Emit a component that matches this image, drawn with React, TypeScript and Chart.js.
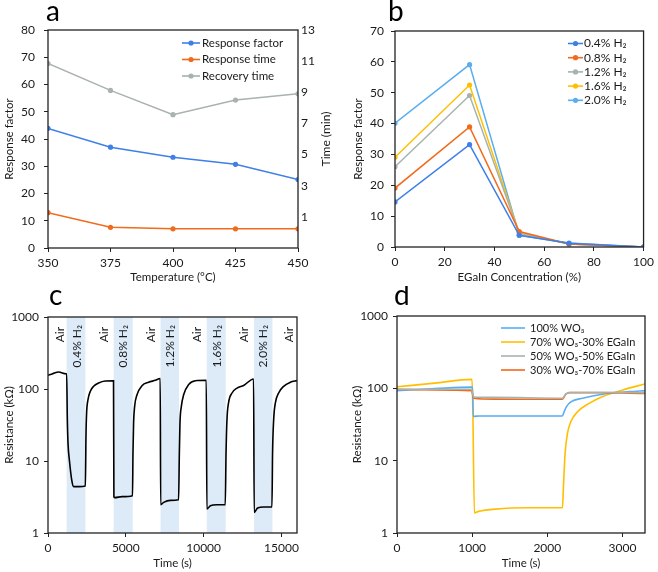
import React, { useEffect, useRef } from "react";
import { Chart, registerables } from "chart.js";

Chart.register(...registerables);

// ---------------- data ----------------
// panel a
const tempC = [350, 375, 400, 425, 450];
const responseFactorA = [43.9, 37.0, 33.3, 30.7, 25.1];
const responseTimeMin = [1.27, 0.33, 0.23, 0.23, 0.23];
const recoveryTimeMin = [10.85, 9.12, 7.56, 8.5, 8.9];
const seriesNamesA = ["Response factor", "Response time", "Recovery time"];
const timeTicksA = [1, 3, 5, 7, 9, 11, 13];

// panel b
const egainPct = [0, 30, 50, 70, 100];
const rf04 = [14.6, 33.2, 3.8, 1.2, 0];
const rf08 = [19.1, 38.9, 5.0, 1.0, 0];
const rf12 = [26.0, 49.1, 4.5, 1.0, 0];
const rf16 = [29.1, 52.5, 4.5, 1.0, 0];
const rf20 = [40.1, 59.1, 3.8, 1.3, 0];
const seriesNamesB = ["0.4% H₂", "0.8% H₂", "1.2% H₂", "1.6% H₂", "2.0% H₂"];

// panel c
const cTime = [
  0, 300, 683, 1157, 1200, 1240, 1290, 1370, 1540, 1650, 2000, 2400,
  2440, 2480, 2570, 2720, 2930, 3250, 3680, 4210,
  4235, 4300, 4750, 5430,
  5460, 5500, 5565, 5720, 6040, 6465, 6900, 7210,
  7240, 7430, 7860, 8390,
  8440, 8480, 8567, 8715, 9036, 9467, 10170,
  10210, 10430, 10860, 11390,
  11440, 11500, 11600, 11825, 12150, 12570, 13210,
  13250, 13470, 13860, 14390,
  14430, 14500, 14610, 14820, 15140, 15570, 16000,
];
const cRes = [
  155, 163, 172, 163, 163, 40, 17, 10.5, 5.2, 4.4, 4.4, 4.5,
  22, 46, 71, 93, 109, 121, 129, 130,
  3.2, 3.1, 3.2, 3.3,
  12.9, 33.7, 57, 83, 111, 124, 132, 140,
  2.47, 2.66, 2.84, 2.9,
  12.9, 33.7, 57, 83, 115, 130, 132,
  2.15, 2.39, 2.47, 2.47,
  12.9, 37.5, 64, 88, 103, 112, 138,
  1.93, 2.22, 2.3, 2.3,
  12.9, 37.5, 64, 88, 109, 124, 131,
];
const cBands = [
  [1200, 2400],
  [4220, 5440],
  [7230, 8420],
  [10200, 11420],
  [13240, 14420],
];
const cAirLabelTimes = [800, 3600, 6600, 9600, 12600, 15500];
const cGasLabels = ["0.4% H₂", "0.8% H₂", "1.2% H₂", "1.6% H₂", "2.0% H₂"];
const cGasLabelTimes = [1850, 4850, 7850, 10850, 13850];
const cTimeTicks = [0, 5000, 10000, 15000];
const resTicks = [1, 10, 100, 1000];

// panel d
const dBlueT = [0, 500, 990, 1005, 1015, 1100, 2200, 2224, 2255, 2313, 2469, 2737, 3093, 3300];
const dBlueR = [93, 99, 104, 104, 41, 41.5, 41.5, 47.5, 56, 65, 73, 83, 90, 93];
const dYellowT = [0, 500, 998, 1008, 1030, 1087, 1310, 1756, 2202, 2215, 2237, 2269, 2313, 2402, 2558, 2737, 3004, 3300];
const dYellowR = [105, 118, 133, 60, 1.9, 1.99, 2.14, 2.23, 2.23, 4.4, 12.7, 24, 34.6, 47.5, 62, 77, 95, 115];
const dGrayT = [0, 500, 990, 1020, 1300, 2200, 2250, 2300, 2700, 3300];
const dGrayR = [97, 97, 97, 76, 75, 73, 84, 88, 88, 87];
const dRedT = [0, 500, 990, 1020, 1300, 2200, 2246, 2300, 2700, 3300];
const dRedR = [97, 95, 93, 73, 71, 70.5, 83, 87, 87, 85];
const seriesNamesD = ["100% WO₃", "70% WO₃-30% EGaIn", "50% WO₃-50% EGaIn", "30% WO₃-70% EGaIn"];
const dTimeTicks = [0, 1000, 2000, 3000];

// ---------------- styles ----------------
const FONT = "Lato, 'Noto Sans', 'DejaVu Sans', sans-serif";
const AXIS = "#222222";
const TEXT = "#1a1a1a";
const BLUE = "#3f7fe8";
const ORANGE = "#f26a1b";
const GRAY = "#a8b2ae";
const YELLOW = "#ffbf00";
const LIGHTBLUE = "#5aaef0";
const BAND = "#ddeaf8";

type LegendItem = { label: string; color: string; marker: boolean };
type DecorCfg = {
  letter: { text: string; x: number; y: number };
  legend?: { x: number; y: number; dy: number; len: number; gap: number; items: LegendItem[]; size: number };
  bands?: number[][];
  vlabels?: { text: string; t: number; top: number }[];
  rightTitle?: { text: string; x: number };
};

function makeDecor(cfg: DecorCfg) {
  return {
    id: "decor",
    beforeDatasetsDraw(chart: any) {
      const { ctx, chartArea, scales } = chart;
      if (cfg.bands) {
        ctx.save();
        ctx.fillStyle = BAND;
        for (const [a, b] of cfg.bands) {
          const x1 = scales.x.getPixelForValue(a);
          const x2 = scales.x.getPixelForValue(b);
          ctx.fillRect(x1, chartArea.top, x2 - x1, chartArea.bottom - chartArea.top);
        }
        ctx.restore();
      }
      if (cfg.vlabels) {
        ctx.save();
        ctx.fillStyle = TEXT;
        ctx.font = `12px ${FONT}`;
        ctx.textAlign = "right";
        ctx.textBaseline = "middle";
        for (const l of cfg.vlabels) {
          const x = scales.x.getPixelForValue(l.t);
          ctx.save();
          ctx.translate(x, chartArea.top + l.top);
          ctx.rotate(-Math.PI / 2);
          ctx.fillText(l.text, 0, 0);
          ctx.restore();
        }
        ctx.restore();
      }
    },
    afterDraw(chart: any) {
      const { ctx, chartArea } = chart;
      ctx.save();
      ctx.strokeStyle = AXIS;
      ctx.lineWidth = 1.3;
      ctx.strokeRect(chartArea.left, chartArea.top, chartArea.right - chartArea.left, chartArea.bottom - chartArea.top);
      // letter
      ctx.fillStyle = "#000";
      ctx.font = `28px ${FONT}`;
      ctx.textAlign = "left";
      ctx.textBaseline = "alphabetic";
      ctx.fillText(cfg.letter.text, cfg.letter.x, cfg.letter.y);
      // legend
      if (cfg.legend) {
        const lg = cfg.legend;
        ctx.font = `${lg.size}px ${FONT}`;
        ctx.textBaseline = "middle";
        lg.items.forEach((it, i) => {
          const y = lg.y + i * lg.dy;
          ctx.strokeStyle = it.color;
          ctx.lineWidth = 1.6;
          ctx.beginPath();
          ctx.moveTo(lg.x, y);
          ctx.lineTo(lg.x + lg.len, y);
          ctx.stroke();
          if (it.marker) {
            ctx.fillStyle = it.color;
            ctx.beginPath();
            ctx.arc(lg.x + lg.len / 2, y, 2.6, 0, Math.PI * 2);
            ctx.fill();
          }
          ctx.fillStyle = TEXT;
          ctx.fillText(it.label, lg.x + lg.len + lg.gap, y);
        });
      }
      if (cfg.rightTitle) {
        ctx.fillStyle = TEXT;
        ctx.font = `12px ${FONT}`;
        ctx.textAlign = "center";
        ctx.textBaseline = "middle";
        ctx.translate(cfg.rightTitle.x, (chartArea.top + chartArea.bottom) / 2);
        ctx.rotate(-Math.PI / 2);
        ctx.fillText(cfg.rightTitle.text, 0, 0);
      }
      ctx.restore();
    },
  };
}

const tickFont = { family: FONT, size: 12 };
const titleFont = { family: FONT, size: 11.5 };
const plainLabel = (v: any) => String(v);

function fixedTicks(values: number[]) {
  return (s: any) => {
    s.ticks = values.map((v) => ({ value: v }));
  };
}

function xScale(extra: any, height: number, title: string, titlePadBottom: number) {
  return {
    type: "linear",
    afterFit: (s: any) => {
      s.height = height;
    },
    grid: { display: true, drawOnChartArea: false, tickLength: 4, color: AXIS, lineWidth: 1 },
    border: { display: false },
    title: { display: true, text: title, font: titleFont, color: TEXT, padding: { top: 0, bottom: titlePadBottom } },
    ...extra,
    ticks: { font: tickFont, color: TEXT, padding: 4, maxRotation: 0, autoSkip: false, callback: plainLabel, ...(extra.ticks || {}) },
  };
}

function yScale(extra: any, width: number, title: string) {
  return {
    position: "left",
    afterFit: (s: any) => {
      s.width = width;
    },
    grid: { display: true, drawOnChartArea: false, tickLength: 4, color: AXIS, lineWidth: 1 },
    border: { display: false },
    title: { display: true, text: title, font: titleFont, color: TEXT, padding: { top: 2, bottom: 0 } },
    ...extra,
    ticks: { font: tickFont, color: TEXT, padding: 7, autoSkip: false, callback: plainLabel, ...(extra.ticks || {}) },
  };
}

const baseOptions = {
  animation: false,
  responsive: false,
  events: [],
  plugins: { legend: { display: false }, tooltip: { enabled: false } },
};

function pts(xs: number[], ys: number[]) {
  return xs.map((x, i) => ({ x, y: ys[i] }));
}

function lineDs(label: string, data: any[], color: string, marker: boolean, yAxisID = "y") {
  return {
    label,
    data,
    borderColor: color,
    backgroundColor: color,
    borderWidth: marker ? 1.5 : 1.6,
    pointRadius: marker ? 2.6 : 0,
    pointBorderWidth: 0,
    pointBackgroundColor: color,
    fill: false,
    yAxisID,
    cubicInterpolationMode: marker ? "default" : "monotone",
  };
}

function buildA() {
  const colors = [BLUE, ORANGE, GRAY];
  return {
    type: "line",
    data: {
      datasets: [
        lineDs(seriesNamesA[0], pts(tempC, responseFactorA), colors[0], true, "y"),
        lineDs(seriesNamesA[1], pts(tempC, responseTimeMin), colors[1], true, "y1"),
        lineDs(seriesNamesA[2], pts(tempC, recoveryTimeMin), colors[2], true, "y1"),
      ],
    },
    options: {
      ...baseOptions,
      layout: { padding: { top: 30, left: 0, right: 0, bottom: 0 } },
      scales: {
        x: xScale({ min: 350, max: 450, afterBuildTicks: fixedTicks(tempC) }, 42, "Temperature (°C)", 6),
        y: yScale({ min: 0, max: 80, ticks: { stepSize: 10, padding: 9 } }, 48, "Response factor"),
        y1: {
          position: "right",
          min: -1,
          max: 13,
          afterFit: (s: any) => {
            s.width = 47;
          },
          afterBuildTicks: fixedTicks(timeTicksA),
          grid: { display: false, drawTicks: false, tickLength: 0 },
          border: { display: false },
          ticks: { font: tickFont, color: TEXT, padding: 3, autoSkip: false, callback: plainLabel },
        },
      },
    },
    plugins: [
      makeDecor({
        letter: { text: "a", x: 46, y: 21 },
        legend: {
          x: 182,
          y: 43,
          dy: 16.5,
          len: 18,
          gap: 2,
          size: 11.5,
          items: seriesNamesA.map((n, i) => ({ label: n, color: colors[i], marker: true })),
        },
        rightTitle: { text: "Time (min)", x: 326 },
      }),
    ],
  };
}

function buildB() {
  const colors = [BLUE, ORANGE, GRAY, YELLOW, LIGHTBLUE];
  const series = [rf04, rf08, rf12, rf16, rf20];
  return {
    type: "line",
    data: {
      datasets: series.map((s, i) => lineDs(seriesNamesB[i], pts(egainPct, s), colors[i], true)),
    },
    options: {
      ...baseOptions,
      layout: { padding: { top: 31, left: 20, right: 12, bottom: 0 } },
      scales: {
        x: xScale({ min: 0, max: 100, ticks: { stepSize: 20 } }, 43, "EGaIn Concentration (%)", 6),
        y: yScale({ min: 0, max: 70, ticks: { stepSize: 10 } }, 46, "Response factor"),
      },
    },
    plugins: [
      makeDecor({
        letter: { text: "b", x: 59, y: 21 },
        legend: {
          x: 239,
          y: 43.5,
          dy: 14.2,
          len: 15,
          gap: 1,
          size: 12,
          items: seriesNamesB.map((n, i) => ({ label: n, color: colors[i], marker: true })),
        },
      }),
    ],
  };
}

function logY(width: number) {
  return yScale(
    {
      type: "logarithmic",
      min: 1,
      max: 1000,
      afterBuildTicks: fixedTicks(resTicks),
      ticks: { padding: 5 },
    },
    width,
    "Resistance (kΩ)"
  );
}

function buildC() {
  const vlabels = [
    ...cAirLabelTimes.map((t) => ({ text: "Air", t, top: 10 })),
    ...cGasLabels.map((text, i) => ({ text, t: cGasLabelTimes[i], top: 8 })),
  ];
  return {
    type: "line",
    data: {
      datasets: [lineDs("Resistance", pts(cTime, cRes), "#000000", false)],
    },
    options: {
      ...baseOptions,
      layout: { padding: { top: 31, left: 0, right: 32, bottom: 0 } },
      scales: {
        x: xScale({ min: 0, max: 16000, afterBuildTicks: fixedTicks(cTimeTicks) }, 39, "Time (s)", 2),
        y: logY(48),
      },
    },
    plugins: [makeDecor({ letter: { text: "c", x: 49, y: 19 }, bands: cBands, vlabels })],
  };
}

function buildD() {
  const colors = [LIGHTBLUE, YELLOW, GRAY, ORANGE];
  return {
    type: "line",
    data: {
      datasets: [
        lineDs(seriesNamesD[2], pts(dGrayT, dGrayR), colors[2], false),
        lineDs(seriesNamesD[3], pts(dRedT, dRedR), colors[3], false),
        lineDs(seriesNamesD[0], pts(dBlueT, dBlueR), colors[0], false),
        lineDs(seriesNamesD[1], pts(dYellowT, dYellowR), colors[1], false),
      ],
    },
    options: {
      ...baseOptions,
      layout: { padding: { top: 30, left: 19, right: 13, bottom: 0 } },
      scales: {
        x: xScale({ min: 0, max: 3300, afterBuildTicks: fixedTicks(dTimeTicks) }, 39, "Time (s)", 2),
        y: logY(49),
      },
    },
    plugins: [
      makeDecor({
        letter: { text: "d", x: 65, y: 19 },
        legend: {
          x: 172,
          y: 42,
          dy: 14,
          len: 24,
          gap: 5,
          size: 11,
          items: seriesNamesD.map((n, i) => ({ label: n, color: colors[i], marker: false })),
        },
      }),
    ],
  };
}

function ChartPanel(props: { left: number; top: number; width: number; height: number; build: () => any }) {
  const ref = useRef<HTMLCanvasElement>(null);
  useEffect(() => {
    const chart = new Chart(ref.current as HTMLCanvasElement, props.build());
    return () => chart.destroy();
  }, []);
  return (
    <canvas
      ref={ref}
      width={props.width}
      height={props.height}
      style={{ position: "absolute", left: props.left, top: props.top, width: props.width, height: props.height }}
    />
  );
}

export default function App() {
  return (
    <div style={{ position: "absolute", left: 0, top: 0, width: 658, height: 572, background: "#ffffff", overflow: "hidden" }}>
      <ChartPanel left={0} top={0} width={345} height={290} build={buildA} />
      <ChartPanel left={329} top={0} width={329} height={290} build={buildB} />
      <ChartPanel left={0} top={286} width={329} height={286} build={buildC} />
      <ChartPanel left={329} top={286} width={329} height={286} build={buildD} />
    </div>
  );
}
